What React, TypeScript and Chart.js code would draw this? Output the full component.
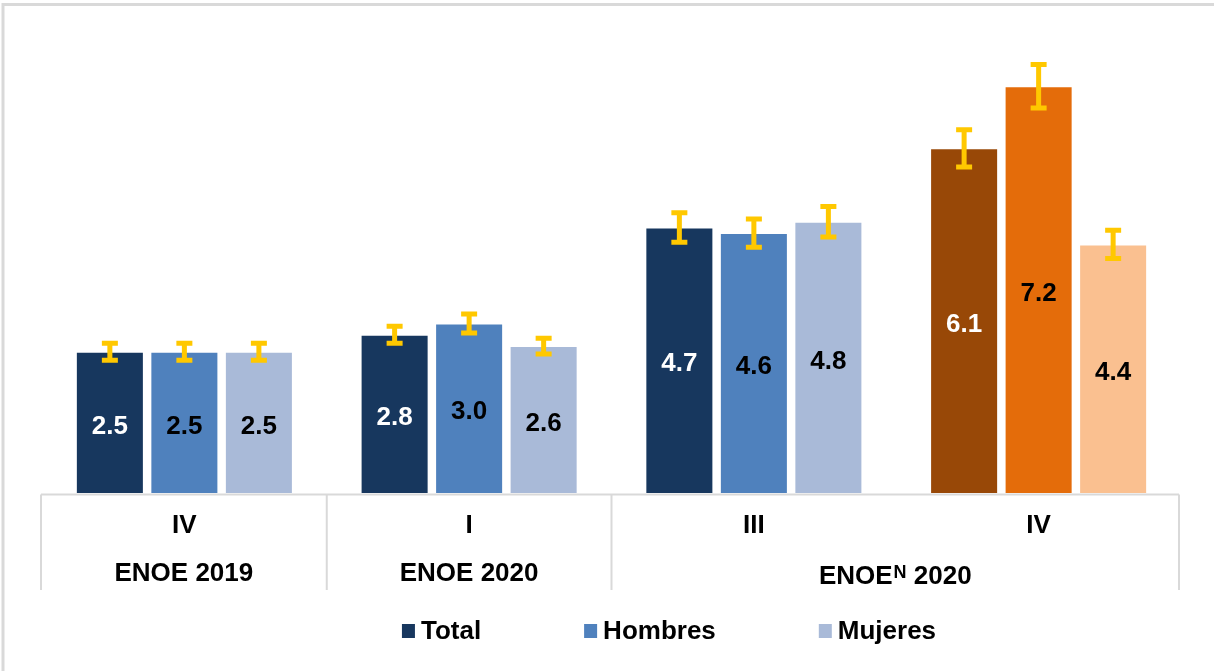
import React, { useEffect, useRef } from 'react';
import { Chart, registerables } from 'chart.js';

Chart.register(...registerables);

// ---- data ----
const quarters = ['IV', 'I', 'III', 'IV'];
const surveys = ['ENOE 2019', 'ENOE 2020', 'ENOEN 2020'];
const surveySpans = [1, 1, 2];
const seriesNames = ['Total', 'Hombres', 'Mujeres'];
const totalValues = [2.5, 2.8, 4.7, 6.1];
const hombresValues = [2.5, 3.0, 4.6, 7.2];
const mujeresValues = [2.5, 2.6, 4.8, 4.4];
const totalErrors = [0.15, 0.15, 0.26, 0.33];
const hombresErrors = [0.15, 0.17, 0.25, 0.385];
const mujeresErrors = [0.15, 0.14, 0.27, 0.25];
const categoryPalette = ['blue', 'blue', 'blue', 'orange'];

// ---- styles ----
const blueColors = ['#17375E', '#4F81BD', '#A9BAD8'];
const orangeColors = ['#984807', '#E46C0A', '#FAC090'];
const labelColors = ['#FFFFFF', '#000000', '#000000'];
const errorColor = '#FFC800';
const gridGray = '#D9D9D9';
const FONT = '"Liberation Sans", Arial, sans-serif';

const seriesValues = [totalValues, hombresValues, mujeresValues];
const seriesErrors = [totalErrors, hombresErrors, mujeresErrors];

const framePlugin = {
  id: 'frame',
  beforeDraw(chart: any) {
    const { ctx, width, height } = chart;
    ctx.save();
    ctx.fillStyle = '#FFFFFF';
    ctx.fillRect(0, 0, width, height);
    ctx.strokeStyle = gridGray;
    ctx.lineWidth = 3;
    ctx.beginPath();
    ctx.moveTo(1.5, 4.5);
    ctx.lineTo(width, 4.5);
    ctx.moveTo(3, 3);
    ctx.lineTo(3, height);
    ctx.stroke();
    ctx.restore();
  },
};

const valueLabelPlugin = {
  id: 'valueLabels',
  afterDatasetsDraw(chart: any) {
    const { ctx } = chart;
    ctx.save();
    ctx.font = `bold 26px ${FONT}`;
    ctx.textAlign = 'center';
    ctx.textBaseline = 'middle';
    chart.data.datasets.forEach((ds: any, di: number) => {
      const meta = chart.getDatasetMeta(di);
      meta.data.forEach((bar: any, i: number) => {
        const v = ds.data[i];
        ctx.fillStyle = labelColors[di];
        ctx.fillText(v.toFixed(1), bar.x, (bar.y + bar.base) / 2 + 4);
      });
    });
    ctx.restore();
  },
};

const errorBarPlugin = {
  id: 'errorBars',
  afterDatasetsDraw(chart: any) {
    const { ctx } = chart;
    const y = chart.scales.y;
    ctx.save();
    ctx.strokeStyle = errorColor;
    ctx.lineWidth = 5;
    ctx.lineCap = 'butt';
    chart.data.datasets.forEach((ds: any, di: number) => {
      const meta = chart.getDatasetMeta(di);
      meta.data.forEach((bar: any, i: number) => {
        const v = ds.data[i];
        const e = seriesErrors[di][i];
        const yt = y.getPixelForValue(v + e);
        const yb = y.getPixelForValue(v - e);
        const half = 8;
        ctx.beginPath();
        ctx.moveTo(bar.x, yt);
        ctx.lineTo(bar.x, yb);
        ctx.moveTo(bar.x - half, yt);
        ctx.lineTo(bar.x + half, yt);
        ctx.moveTo(bar.x - half, yb);
        ctx.lineTo(bar.x + half, yb);
        ctx.stroke();
      });
    });
    ctx.restore();
  },
};

const axisTablePlugin = {
  id: 'axisTable',
  afterDraw(chart: any) {
    const { ctx, chartArea } = chart;
    const x = chart.scales.x;
    const n = quarters.length;
    const centers = quarters.map((_, i) => x.getPixelForValue(i));
    const edges: number[] = [chartArea.left - 1];
    for (let i = 0; i < n - 1; i++) edges.push((centers[i] + centers[i + 1]) / 2);
    edges.push(chartArea.right - 2);
    const top = chartArea.bottom + 1.5;
    const bottom = chartArea.bottom + 97;

    ctx.save();
    ctx.strokeStyle = gridGray;
    ctx.lineWidth = 2;
    ctx.beginPath();
    ctx.moveTo(edges[0], top);
    ctx.lineTo(edges[n], top);
    let idx = 0;
    const groupEdges = [0];
    surveySpans.forEach((s) => {
      idx += s;
      groupEdges.push(idx);
    });
    groupEdges.forEach((g) => {
      const gx = edges[g];
      ctx.moveTo(gx, top);
      ctx.lineTo(gx, bottom);
    });
    ctx.stroke();

    ctx.fillStyle = '#000000';
    ctx.textAlign = 'center';
    ctx.textBaseline = 'middle';
    ctx.font = `bold 26px ${FONT}`;
    quarters.forEach((q, i) => {
      ctx.fillText(q, centers[i], chartArea.bottom + 33);
    });

    const rowY = chartArea.bottom + 81;
    let start = 0;
    surveys.forEach((label, gi) => {
      const end = start + surveySpans[gi];
      const cx = (edges[start] + edges[end]) / 2;
      start = end;
      const m = label.match(/^ENOE(N)( .*)$/);
      if (m) {
        const bigFont = `bold 26px ${FONT}`;
        const smallFont = `bold 18px ${FONT}`;
        ctx.font = bigFont;
        const w1 = ctx.measureText('ENOE').width;
        const w3 = ctx.measureText(m[2]).width;
        ctx.font = smallFont;
        const w2 = ctx.measureText(m[1]).width + 1;
        const total = w1 + w2 + w3;
        let sx = cx - total / 2;
        ctx.textAlign = 'left';
        ctx.textBaseline = 'alphabetic';
        const base = rowY + 9.5;
        ctx.font = bigFont;
        ctx.fillText('ENOE', sx, base);
        sx += w1 + 1;
        ctx.font = smallFont;
        ctx.fillText(m[1], sx, base - 5.5);
        sx += w2 - 1;
        ctx.font = bigFont;
        ctx.fillText(m[2], sx, base);
        ctx.textAlign = 'center';
        ctx.textBaseline = 'middle';
      } else {
        ctx.font = `bold 26px ${FONT}`;
        ctx.fillText(label, cx, rowY);
      }
    });
    ctx.restore();
  },
};

const legendPlugin = {
  id: 'customLegend',
  afterDraw(chart: any) {
    const { ctx, chartArea } = chart;
    const legendCenter = chartArea.left + 627;
    const legendY = chartArea.bottom + 138;
    const box = 13;
    const textGap = 6;
    const itemGap = 103;
    ctx.save();
    ctx.font = `bold 26px ${FONT}`;
    const widths = seriesNames.map((s) => ctx.measureText(s).width);
    const total =
      widths.reduce((a, w) => a + box + textGap + w, 0) + itemGap * (seriesNames.length - 1);
    let sx = legendCenter - total / 2;
    ctx.textBaseline = 'middle';
    ctx.textAlign = 'left';
    seriesNames.forEach((s, i) => {
      ctx.fillStyle = blueColors[i];
      ctx.fillRect(sx, legendY - 7, box, 14);
      ctx.fillStyle = '#000000';
      ctx.fillText(s, sx + box + textGap, legendY + 1);
      sx += box + textGap + widths[i] + itemGap;
    });
    ctx.restore();
  },
};

export default function App() {
  const ref = useRef<HTMLCanvasElement | null>(null);

  useEffect(() => {
    if (!ref.current) return;
    const datasets = seriesNames.map((name, di) => ({
      label: name,
      data: seriesValues[di],
      backgroundColor: categoryPalette.map((p) =>
        p === 'orange' ? orangeColors[di] : blueColors[di]
      ),
      borderColor: 'rgba(255,255,255,0.45)',
      borderWidth: 1,
      categoryPercentage: 0.785,
      barPercentage: 0.913,
    }));
    const chart = new Chart(ref.current, {
      type: 'bar',
      data: { labels: quarters, datasets },
      options: {
        animation: false,
        responsive: false,
        maintainAspectRatio: false,
        devicePixelRatio: 1,
        layout: { padding: { left: 42, right: 33, top: 41, bottom: 178 } },
        plugins: {
          legend: { display: false },
          tooltip: { enabled: false },
        },
        scales: {
          x: { display: false, grid: { display: false } },
          y: { display: false, min: 0, max: 8, grid: { display: false } },
        },
      },
      plugins: [framePlugin, valueLabelPlugin, errorBarPlugin, axisTablePlugin, legendPlugin],
    });
    return () => chart.destroy();
  }, []);

  return (
    <div style={{ position: 'fixed', left: 0, top: 0, width: 1214, height: 671, background: '#fff' }}>
      <canvas ref={ref} width={1214} height={671} style={{ display: 'block', width: 1214, height: 671 }} />
    </div>
  );
}
